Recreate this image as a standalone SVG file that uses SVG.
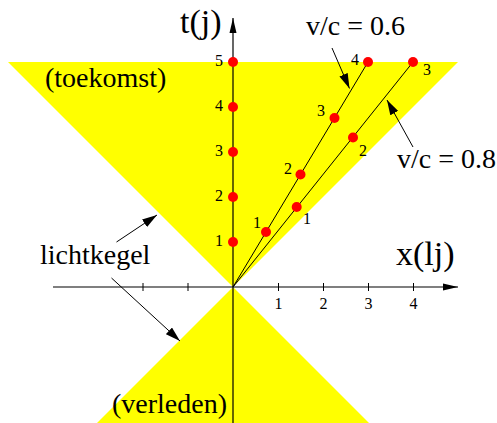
<svg xmlns="http://www.w3.org/2000/svg" width="497" height="423" viewBox="0 0 497 423">
<style>
.cone{fill:#ffff00}
.axis{stroke:#000;stroke-width:1.2;fill:none}
.tick{stroke:#000;stroke-width:1;fill:none}
.wl{stroke:#000;stroke-width:1;fill:none}
.dot{fill:#ff0000}
.big{font-family:"Liberation Serif","Times New Roman",serif;font-size:28px;fill:#000}
.ax{font-family:"Liberation Serif","Times New Roman",serif;font-size:34px;fill:#000}
.num{font-family:"Liberation Serif","Times New Roman",serif;font-size:16px;fill:#000}
.ptr{stroke:#000;stroke-width:1;fill:none;marker-end:url(#ah)}
</style>
<defs>
<marker id="ah" markerUnits="userSpaceOnUse" markerWidth="15" markerHeight="9" refX="15" refY="4.5" orient="auto"><path d="M0,0 L15,4.5 L0,9 z" fill="#000"/></marker>
<marker id="axh" markerUnits="userSpaceOnUse" markerWidth="15" markerHeight="8" refX="15" refY="4" orient="auto"><path d="M0,0.5 L15,4 L0,7.5 z" fill="#000"/></marker>
</defs>
<g id="lightcone">
<polygon class="cone" points="8,62 458,62 233,287"/>
<polygon class="cone" points="233,287 383,437 83,437"/>
</g>
<g id="axes">
<line class="axis" x1="53" y1="287" x2="458" y2="287" marker-end="url(#axh)"/>
<line class="axis" x1="233" y1="423" x2="233" y2="18" marker-end="url(#axh)"/>
<path class="tick" d="M143,283V291M188,283V291M278.5,283V291M323.5,283V291M368.5,283V291M413.5,283V291"/>
<text class="num" x="278.5" y="309" text-anchor="middle">1</text>
<text class="num" x="323.5" y="309" text-anchor="middle">2</text>
<text class="num" x="368.5" y="309" text-anchor="middle">3</text>
<text class="num" x="413.5" y="309" text-anchor="middle">4</text>
<text class="ax" x="180" y="33">t(j)</text>
<text class="ax" x="396" y="265">x(lj)</text>
</g>
<g id="worldlines">
<line class="wl" x1="233" y1="287" x2="368" y2="62"/>
<line class="wl" x1="233" y1="287" x2="413" y2="62"/>
</g>
<g id="rest-clock">
<circle class="dot" cx="233" cy="62" r="5"/>
<circle class="dot" cx="233" cy="107" r="5"/>
<circle class="dot" cx="233" cy="152" r="5"/>
<circle class="dot" cx="233" cy="197" r="5"/>
<circle class="dot" cx="233" cy="242" r="5"/>
<text class="num" x="223" y="66" text-anchor="end">5</text>
<text class="num" x="223" y="111" text-anchor="end">4</text>
<text class="num" x="223" y="156" text-anchor="end">3</text>
<text class="num" x="223" y="201" text-anchor="end">2</text>
<text class="num" x="223" y="246" text-anchor="end">1</text>
</g>
<g id="clock-06">
<circle class="dot" cx="266" cy="232" r="5"/>
<circle class="dot" cx="300.5" cy="174.5" r="5"/>
<circle class="dot" cx="334.5" cy="118" r="5"/>
<circle class="dot" cx="368" cy="62" r="5"/>
<text class="num" x="261" y="228" text-anchor="end">1</text>
<text class="num" x="292" y="174" text-anchor="end">2</text>
<text class="num" x="325" y="116" text-anchor="end">3</text>
<text class="num" x="359" y="65" text-anchor="end">4</text>
</g>
<g id="clock-08">
<circle class="dot" cx="296.7" cy="207" r="5"/>
<circle class="dot" cx="353" cy="137.5" r="5"/>
<circle class="dot" cx="413" cy="62" r="5"/>
<text class="num" x="303" y="224">1</text>
<text class="num" x="359" y="156">2</text>
<text class="num" x="423" y="75">3</text>
</g>
<g id="label-toekomst"><text class="big" x="45" y="87">(toekomst)</text></g>
<g id="label-verleden"><text class="big" x="112" y="413">(verleden)</text></g>
<g id="label-lichtkegel"><text class="big" x="40" y="264">lichtkegel</text></g>
<g id="label-v06"><text class="big" x="306" y="35">v/c = 0.6</text></g>
<g id="label-v08"><text class="big" x="397" y="168">v/c = 0.8</text></g>
<g id="connectors">
<line class="ptr" x1="332" y1="48" x2="349.5" y2="88.5"/>
<line class="ptr" x1="413" y1="147" x2="387" y2="100"/>
<line class="ptr" x1="116.5" y1="242" x2="157" y2="215"/>
<line class="ptr" x1="111.5" y1="278" x2="180" y2="341"/>
</g>
</svg>
